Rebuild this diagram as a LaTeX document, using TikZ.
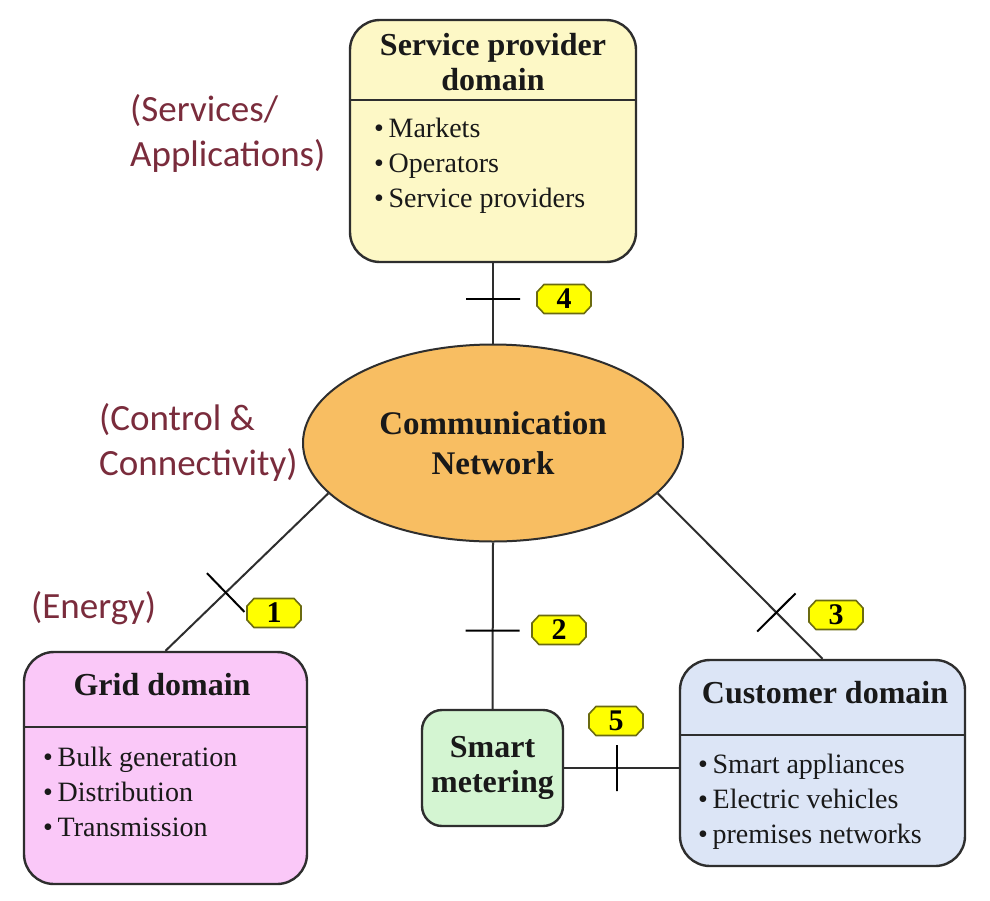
\documentclass[tikz,border=0pt]{standalone}
\usepackage{fontspec}
\setmainfont{Liberation Serif}
\newfontfamily\calibfont{Carlito}
\usetikzlibrary{shapes.geometric}
\definecolor{spyellow}{HTML}{FDF8C6}
\definecolor{cnorange}{HTML}{F8BE62}
\definecolor{gridpink}{HTML}{FAC8F8}
\definecolor{smgreen}{HTML}{D4F5D2}
\definecolor{custblue}{HTML}{DCE5F6}
\definecolor{badgeyellow}{HTML}{FFFF00}
\definecolor{badgeedge}{HTML}{6B6B10}
\definecolor{maroon}{HTML}{7A2C3C}
\definecolor{edge}{HTML}{2E2E2E}
\tikzset{
  domainbox/.style={draw=edge, line width=2.4pt, rounded corners=30pt, inner sep=0pt},
  divider/.style={draw=edge, line width=2.2pt},
  titletext/.style={font=\bfseries\fontsize{32}{35}\selectfont, align=center, text=black!90, inner sep=0pt},
  itemtext/.style={font=\fontsize{28}{35}\selectfont, align=left, anchor=west, text=black!90, inner sep=0pt},
  sidelabel/.style={font=\calibfont\fontsize{37}{45}\selectfont, align=left, anchor=west, text=maroon, inner sep=0pt},
  conn/.style={draw=edge, line width=2pt},
  crossbar/.style={draw=black, line width=2pt, minimum width=0pt, minimum height=54pt, inner sep=0pt, outer sep=0pt},
  badgeshape/.style={fill=badgeyellow, draw=badgeedge, line width=1.6pt},
  badgetext/.style={inner sep=0pt, font=\bfseries\fontsize{30}{30}\selectfont}
}
\newcommand\mybadge[3]{%
  \coordinate (#1c) at (#2);
  \path[badgeshape] ([shift={(-27pt,7pt)}]#1c) -- ([shift={(-20pt,14.5pt)}]#1c) -- ([shift={(20pt,14.5pt)}]#1c) -- ([shift={(27pt,7pt)}]#1c) -- ([shift={(27pt,-7pt)}]#1c) -- ([shift={(20pt,-14.5pt)}]#1c) -- ([shift={(-20pt,-14.5pt)}]#1c) -- ([shift={(-27pt,-7pt)}]#1c) -- cycle;
  \node[badgetext] (#1) at (#1c) {#3};}
\begin{document}
\begin{tikzpicture}[x=1pt,y=-1pt]
\useasboundingbox (0,0) rectangle (990,900);
\fill[white] (0,0) rectangle (990,900);

% Service provider domain
\node[domainbox, fill=spyellow, minimum width=286pt, minimum height=242pt] (sp) at (493,141) {};
\draw[divider] (sp.west |- 0,100) -- (sp.east |- 0,100);
\node[titletext] (spt) at (493,62) {Service provider\\domain};
\node[itemtext] (spi) at (374,166) {•\,Markets\\•\,Operators\\•\,Service providers};

% Communication network
\node[ellipse, draw=edge, line width=2pt, fill=cnorange, minimum width=380pt, minimum height=197pt, inner sep=0pt, font=\bfseries\fontsize{33}{40}\selectfont, align=center, text=black!90] (cn) at (493,443) {Communication\\Network};

% Grid domain
\node[domainbox, fill=gridpink, minimum width=283pt, minimum height=232pt] (grid) at (165.5,768) {};
\draw[divider] (grid.west |- 0,727) -- (grid.east |- 0,727);
\node[titletext] (gridt) at (162,685) {Grid domain};
\node[itemtext] (gridi) at (43,792) {•\,Bulk generation\\•\,Distribution\\•\,Transmission};

% Smart metering
\node[domainbox, rounded corners=20pt, fill=smgreen, minimum width=141pt, minimum height=116pt, titletext] (sm) at (492.5,768) {Smart\\metering};

% Customer domain
\node[domainbox, fill=custblue, minimum width=285pt, minimum height=206pt] (cust) at (822.5,763) {};
\draw[divider] (cust.west |- 0,735) -- (cust.east |- 0,735);
\node[titletext] (custt) at (825,693) {Customer domain};
\node[itemtext] (custi) at (698,802) {•\,Smart appliances\\•\,Electric vehicles\\•\,premises networks};

% Side labels
\node[sidelabel] (lserv) at (130,133) {(Services/\\Applications)};
\node[sidelabel] (lctrl) at (99,442) {(Control \&\\Connectivity)};
\node[sidelabel] (lener) at (31,608) {(Energy)};

% Connectors with crossbars
\draw[conn] (sp.south) -- (cn.north) node[crossbar, pos=0.45, sloped] (x4) {};
\draw[conn] (cn.197) -- (grid.north) node[crossbar, pos=0.63, sloped] (x1) {};
\draw[conn] (cn.south) -- (sm.north) node[crossbar, pos=0.53, sloped] (x2) {};
\draw[conn] (cn.343) -- (cust.north) node[crossbar, pos=0.72, sloped] (x3) {};
\draw[conn] (sm.east) -- (sm.east -| cust.west) node[crossbar, pos=0.46, sloped, minimum height=46pt] (x5) {};

% Badges
\mybadge{b4}{564,299}{4}
\mybadge{b1}{274,613}{1}
\mybadge{b2}{559,630}{2}
\mybadge{b3}{836,615}{3}
\mybadge{b5}{616,721}{5}
\end{tikzpicture}
\end{document}
